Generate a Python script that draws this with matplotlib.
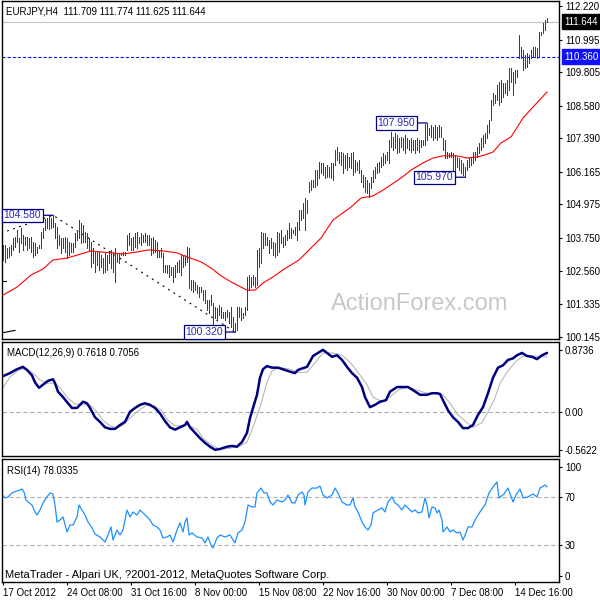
"""
EURJPY H4 - grafico estilo MetaTrader (barras, MA, MACD, RSI)
Saida: out.png (600x600)
"""
import matplotlib; matplotlib.use("Agg")
import matplotlib.pyplot as plt

plt.rcParams["font.family"] = ["Liberation Sans", "DejaVu Sans"]
plt.rcParams["lines.scale_dashes"] = False

# ---- barras (maxima / minima por barra H4, 17 Oct -> 19 Dec 2012) ----
HIGH = [103.50, 103.50, 103.39, 103.43, 103.50, 103.75, 103.79, 104.05, 103.75, 104.12,
        103.86, 103.79, 103.79, 103.75, 103.79, 103.61, 103.57, 103.43, 103.50, 103.97,
        104.12, 104.45, 104.48, 104.52, 104.48, 104.58, 104.30, 104.15, 103.86, 103.75,
        103.75, 103.79, 103.75, 103.61, 103.57, 103.57, 103.93, 103.97, 104.41, 104.30,
        104.23, 103.97, 103.93, 103.75, 103.61, 103.39, 103.24, 103.24, 103.24, 103.13,
        103.02, 103.21, 103.13, 103.24, 103.32, 103.24, 103.39, 103.21, 103.21, 103.21,
        103.24, 103.24, 103.86, 103.93, 103.75, 103.79, 103.93, 103.97, 103.79, 103.93,
        103.86, 103.93, 103.86, 103.86, 103.75, 103.79, 103.68, 103.61, 103.32, 103.39,
        103.21, 102.77, 102.77, 102.77, 102.69, 102.69, 102.77, 102.88, 102.95, 103.13,
        103.13, 103.13, 103.43, 103.39, 102.22, 102.22, 102.15, 102.04, 101.96, 101.96,
        101.85, 101.85, 101.49, 101.49, 101.67, 101.38, 101.23, 101.20, 101.31, 101.23,
        101.05, 101.05, 101.12, 101.05, 101.23, 100.87, 100.65, 101.23, 101.23, 101.20,
        101.01, 101.23, 102.33, 102.40, 102.33, 102.40, 102.33, 103.32, 103.39, 103.97,
        103.93, 103.93, 103.79, 103.68, 103.75, 103.61, 103.57, 103.97, 103.93, 104.05,
        103.79, 103.86, 104.05, 104.30, 104.12, 104.05, 104.15, 104.34, 104.77, 104.77,
        105.03, 105.21, 105.14, 105.80, 105.87, 105.87, 106.23, 106.23, 106.53, 106.49,
        106.49, 106.34, 106.42, 106.34, 106.49, 106.49, 106.97, 107.07, 106.89, 106.89,
        106.86, 106.78, 106.86, 106.71, 106.86, 106.89, 106.60, 106.53, 106.60, 106.23,
        106.05, 105.98, 105.87, 105.76, 105.98, 106.23, 106.34, 106.49, 106.53, 106.71,
        106.86, 106.78, 106.89, 107.33, 107.62, 107.44, 107.59, 107.51, 107.40, 107.44,
        107.40, 107.51, 107.40, 107.33, 107.40, 107.33, 107.33, 107.40, 107.33, 107.33,
        107.33, 107.90, 107.95, 107.77, 107.88, 107.80, 107.88, 107.80, 107.88, 107.80,
        107.40, 107.33, 106.89, 106.86, 106.89, 106.86, 106.78, 106.71, 106.67, 106.60,
        106.49, 106.34, 106.60, 106.67, 106.67, 106.89, 106.89, 107.07, 107.22, 107.40,
        107.51, 107.59, 107.88, 108.06, 108.79, 109.05, 108.97, 109.34, 109.45, 109.52,
        109.41, 109.41, 109.52, 109.96, 109.96, 109.81, 109.89, 109.89, 111.16, 110.72,
        110.62, 110.43, 110.51, 110.43, 110.62, 110.72, 110.72, 110.69, 111.27, 111.27,
        111.60, 111.71, 111.774]
LOW = [102.95, 102.88, 103.02, 103.06, 103.13, 103.32, 103.43, 103.61, 103.24, 103.57,
       103.32, 103.50, 103.32, 103.39, 103.24, 103.06, 103.13, 103.21, 103.39, 103.39,
       103.75, 104.05, 104.12, 104.08, 104.12, 104.15, 103.75, 103.39, 103.50, 103.21,
       103.39, 103.24, 103.02, 103.13, 103.24, 103.24, 103.43, 103.68, 103.75, 103.57,
       103.61, 103.61, 103.39, 103.32, 102.69, 102.84, 102.51, 102.77, 102.59, 102.69,
       102.48, 102.51, 102.59, 102.84, 102.66, 102.51, 102.15, 102.88, 102.84, 103.13,
       103.13, 103.13, 103.32, 103.50, 103.32, 103.32, 103.43, 103.39, 103.57, 103.50,
       103.61, 103.61, 103.50, 103.50, 103.13, 103.21, 103.24, 103.06, 103.06, 103.06,
       102.51, 102.51, 102.48, 102.33, 102.40, 102.15, 102.33, 102.51, 102.51, 102.40,
       102.69, 102.77, 102.88, 101.93, 101.85, 101.78, 101.85, 101.74, 101.60, 101.78,
       101.49, 101.38, 101.12, 101.01, 101.31, 100.47, 100.83, 100.76, 100.94, 100.83,
       100.83, 100.76, 100.87, 100.65, 100.51, 100.40, 100.32, 100.40, 100.87, 100.76,
       100.83, 100.94, 101.12, 101.85, 101.96, 102.04, 101.96, 102.04, 102.69, 102.84,
       103.39, 103.50, 103.50, 103.21, 103.39, 103.13, 103.06, 103.13, 103.24, 103.57,
       103.43, 103.50, 103.68, 103.75, 103.75, 103.93, 103.86, 103.68, 104.05, 104.41,
       104.48, 104.05, 104.67, 105.43, 105.50, 105.61, 105.61, 105.69, 105.94, 106.12,
       106.05, 105.94, 105.98, 105.98, 105.94, 105.87, 106.42, 106.60, 106.49, 106.42,
       106.12, 106.31, 106.23, 106.34, 106.31, 106.05, 106.16, 106.23, 106.12, 105.80,
       105.61, 105.43, 105.40, 105.25, 105.58, 105.80, 105.94, 106.12, 106.16, 106.34,
       106.42, 106.49, 106.60, 106.49, 107.07, 106.97, 107.04, 106.86, 106.89, 107.07,
       106.97, 106.86, 107.04, 106.97, 106.89, 106.97, 106.86, 106.97, 106.89, 107.07,
       107.15, 107.15, 107.33, 107.51, 107.44, 107.33, 107.40, 107.33, 107.44, 107.44,
       106.97, 106.67, 106.67, 106.71, 106.71, 106.12, 106.23, 106.34, 106.23, 106.12,
       106.05, 105.97, 106.23, 106.34, 106.42, 106.49, 106.60, 106.71, 106.86, 106.97,
       107.07, 107.22, 107.40, 107.59, 108.06, 108.61, 108.68, 108.79, 108.61, 108.72,
       108.90, 109.05, 108.97, 109.16, 109.45, 108.97, 109.41, 109.63, 110.32, 110.32,
       109.89, 109.96, 109.99, 110.14, 110.32, 110.36, 110.36, 110.32, 110.36, 111.16,
       111.24, 111.35, 111.625]

# media movel (vermelha)
MA_IDX = [0, 7, 14, 20, 25, 32, 39, 44, 49, 54, 60, 67, 73, 80, 87, 92, 99, 104, 109, 114,
          119, 122, 126, 130, 135, 140, 148, 159, 165, 174, 179, 185, 190, 199, 204, 210,
          215, 220, 227, 232, 237, 241, 245, 249, 254, 260, 265, 272]
MA_VAL = [101.67, 101.96, 102.40, 102.62, 102.95, 103.02, 103.17, 103.28, 103.24, 103.21,
          103.17, 103.24, 103.32, 103.28, 103.21, 103.06, 102.88, 102.66, 102.37, 102.15,
          101.96, 101.85, 101.85, 102.11, 102.33, 102.59, 102.95, 103.75, 104.41, 104.88,
          105.21, 105.29, 105.50, 105.94, 106.23, 106.49, 106.67, 106.75, 106.75, 106.67,
          106.71, 106.78, 106.89, 107.22, 107.44, 108.13, 108.53, 109.08]

# zigzag tracejado e marcas de preco
ZZ_IDX = [-1, 25, 116]
ZZ_PRICE = [103.93, 104.58, 100.32]
MARK_IDX = [25, 116, 212, 231]
MARK_PRICE = [104.580, 100.320, 107.950, 105.970]
STUB_IDX = [(-0.5, 6), (-0.5, 1.5)]
STUB_PRICE = [(100.29, 100.38), (102.18, 102.18)]

LAST_PRICE = 111.644
LEVEL = 110.360
OHLC_TXT = "EURJPY,H4  111.709 111.774 111.625 111.644"
PRICE_TICKS = [112.220, 110.995, 109.805, 108.580, 107.390, 106.165,
               104.975, 103.750, 102.560, 101.335, 100.145]

# MACD
MACD_IDX = [0, 3.5, 7, 10, 12, 14.5, 16, 18, 20, 22.5, 25, 26, 27.5, 30, 32.5, 34.5, 37,
            38.5, 40, 42, 43.5, 46, 48.5, 51, 53.5, 56, 58.5, 61, 63.5, 66, 68.5, 71, 73.5,
            76, 78.5, 81, 83.5, 86, 88.5, 91, 92, 93.5, 96, 98.5, 101, 103.5, 106, 108.5,
            112, 114.5, 117, 119.5, 122, 123.5, 125, 127, 128.5, 130, 132, 134.5, 137.5,
            141, 144.5, 146, 147.5, 148.5, 152, 155, 157.5, 160, 162, 164.5, 167, 169.5,
            172, 174.5, 177, 179.5, 181, 183.5, 186, 188.5, 191.5, 193.5, 197, 200, 202.5,
            205, 208.5, 212, 214.5, 217, 218.5, 220, 222.5, 225, 227.5, 230, 232.5, 235,
            237.5, 240, 242.5, 245, 247.5, 250, 252.5, 255, 257, 259.5, 262, 264.5, 267,
            269.5, 272]
MACD_MAIN = [0.46, 0.50, 0.55, 0.58, 0.54, 0.47, 0.38, 0.31, 0.35, 0.40, 0.42, 0.37, 0.26,
             0.19, 0.11, 0.05, 0.05, 0.09, 0.13, 0.11, 0.05, -0.07, -0.13, -0.20, -0.22,
             -0.22, -0.17, -0.13, 0.00, 0.05, 0.09, 0.11, 0.09, 0.05, -0.02, -0.12, -0.20,
             -0.23, -0.20, -0.17, -0.13, -0.20, -0.27, -0.34, -0.40, -0.45, -0.49, -0.48,
             -0.45, -0.44, -0.45, -0.39, -0.27, -0.08, 0.05, 0.22, 0.44, 0.55, 0.59, 0.57,
             0.57, 0.54, 0.51, 0.50, 0.54, 0.55, 0.58, 0.72, 0.76, 0.80, 0.76, 0.71, 0.73,
             0.67, 0.58, 0.50, 0.44, 0.32, 0.19, 0.06, 0.09, 0.13, 0.15, 0.26, 0.32, 0.32,
             0.32, 0.28, 0.22, 0.22, 0.24, 0.24, 0.23, 0.15, 0.02, -0.07, -0.13, -0.21,
             -0.21, -0.17, -0.04, 0.06, 0.24, 0.44, 0.57, 0.60, 0.67, 0.69, 0.73, 0.76,
             0.72, 0.71, 0.68, 0.73, 0.76]
SIG_IDX = [0, 3.5, 8.5, 12, 15, 18.5, 22, 26, 28.5, 32, 36, 40, 43.5, 47, 50, 53.5, 57, 60,
           63.5, 67, 72, 76, 79.5, 82.5, 86, 89.5, 92.5, 97, 100, 105, 108.5, 113.5, 118.5,
           122, 125, 128.5, 132, 134.5, 138.5, 143.5, 147.5, 152, 156, 160, 165, 169.5,
           173.5, 177.5, 182, 185, 189.5, 193.5, 197.5, 202, 207, 212, 217, 220, 223.5,
           227.5, 232, 235, 239.5, 242.5, 246, 248.5, 252, 256, 260, 265, 272]
MACD_SIG = [0.31, 0.45, 0.55, 0.55, 0.50, 0.41, 0.37, 0.37, 0.31, 0.19, 0.10, 0.09, 0.09,
            0.00, -0.11, -0.18, -0.21, -0.17, -0.08, 0.00, 0.09, 0.07, 0.01, -0.11, -0.18,
            -0.18, -0.17, -0.23, -0.34, -0.44, -0.48, -0.47, -0.44, -0.39, -0.20, 0.06,
            0.38, 0.53, 0.57, 0.55, 0.51, 0.51, 0.63, 0.76, 0.76, 0.73, 0.64, 0.51, 0.35,
            0.19, 0.13, 0.19, 0.28, 0.32, 0.28, 0.24, 0.24, 0.22, 0.11, -0.04, -0.14,
            -0.20, -0.14, 0.00, 0.18, 0.37, 0.51, 0.64, 0.72, 0.72, 0.71]

# RSI(14)
RSI_IDX = [0, 1, 2.5, 4.5, 7, 9.5, 10.5, 11.5, 12.5, 14.5, 16, 17, 18.5, 20, 22, 23.5, 25,
           26, 27, 28.5, 30, 32, 33.5, 35, 37, 38, 39.5, 41, 42.5, 44.5, 46, 48.5, 51, 52.5,
           54, 55, 57, 58.5, 60, 62, 63.5, 65, 67, 68.5, 70, 72, 73.5, 75, 77, 78.5, 80, 82,
           83.5, 85, 87, 88.5, 90, 91, 92, 93, 94.5, 97, 99.5, 101, 102.5, 104, 105, 107,
           108.5, 111, 113.5, 116, 117.5, 119.5, 121, 122.5, 124.5, 126, 127, 129, 130.5,
           132, 133.5, 135, 137, 139.5, 141, 142.5, 144.5, 146, 147.5, 149.5, 150.5, 151,
           152.5, 154.5, 157, 158.5, 160, 162, 164.5, 166, 167.5, 169.5, 172, 173.5, 175,
           176, 177.5, 179.5, 181, 182.5, 184, 185, 187.5, 189.5, 191, 192.5, 194.5, 196,
           197.5, 199.5, 201, 202.5, 204.5, 206, 207.5, 209.5, 211, 212, 213, 214.5, 216,
           217, 218, 219.5, 220, 222, 223.5, 225, 227, 228.5, 230, 231.5, 232.5, 234.5, 236,
           238.5, 241, 243, 245, 247, 248, 250.5, 252.5, 255, 256.5, 258.5, 260, 262.5, 265,
           267, 268.5, 271, 272]
RSI_VAL = [70.7, 68.9, 69.7, 73.0, 74.6, 76.2, 73.8, 67.2, 65.6, 63.1, 57.4, 54.9, 59.0,
           64.8, 69.7, 73.0, 72.1, 63.1, 49.2, 50.8, 53.3, 41.0, 46.7, 46.7, 53.3, 63.1,
           59.0, 54.9, 49.2, 44.3, 39.3, 36.9, 32.8, 38.5, 45.1, 34.4, 42.6, 38.5, 42.6,
           59.0, 53.3, 57.4, 54.9, 59.0, 56.6, 53.3, 50.8, 46.7, 45.1, 42.6, 36.1, 36.9,
           38.5, 32.8, 42.6, 48.4, 41.0, 49.2, 52.5, 38.5, 40.2, 36.9, 36.1, 32.0, 36.9,
           30.3, 27.9, 36.1, 38.5, 36.9, 38.5, 32.0, 40.2, 42.6, 49.2, 63.1, 61.5, 61.5,
           73.0, 77.0, 73.0, 73.0, 65.6, 63.1, 67.2, 65.6, 67.2, 71.3, 64.8, 64.8, 71.3,
           73.8, 71.3, 63.1, 73.8, 77.0, 77.0, 78.7, 71.3, 68.9, 71.3, 77.0, 73.0, 65.6,
           63.1, 63.1, 68.9, 61.5, 57.4, 49.2, 45.1, 42.6, 46.7, 56.6, 59.0, 60.7, 57.4,
           65.6, 69.7, 64.8, 63.1, 59.0, 63.1, 60.7, 57.4, 59.0, 56.6, 57.4, 68.9, 63.1,
           52.5, 61.5, 60.7, 56.6, 59.0, 50.8, 41.0, 45.1, 41.0, 42.6, 40.2, 41.0, 34.4,
           40.2, 45.1, 45.1, 50.8, 57.4, 63.1, 73.0, 77.9, 82.0, 68.9, 72.1, 77.0, 65.6,
           71.3, 76.2, 68.9, 69.7, 72.1, 69.7, 77.0, 79.5, 78.0]

TIME_IDX = [0, 32, 64, 96, 128, 160, 192, 224, 256]
TIME_LBL = ["17 Oct 2012", "24 Oct 08:00", "31 Oct 16:00", "8 Nov 00:00", "15 Nov 08:00",
            "22 Nov 16:00", "30 Nov 00:00", "7 Dec 08:00", "14 Dec 16:00"]

BAR_COR = "#1d4766"
NAVY = "#000080"
FS = 7

fig = plt.figure(figsize=(6, 6), dpi=100)


def painel(topo, base):
    return fig.add_axes([2 / 600, 1 - base / 600, 557 / 600, (base - topo) / 600])


ax_p = painel(1, 339)
ax_m = painel(342, 456)
ax_r = painel(459, 582)

for ax in (ax_p, ax_m, ax_r):
    ax.set_xlim(-0.5, 278)
    for s in ax.spines.values():
        s.set_color("black"); s.set_linewidth(1.0)
    ax.yaxis.tick_right()
    ax.tick_params(axis="y", direction="out", length=2.2, width=0.8, pad=2,
                   labelsize=FS, right=True, left=False)
    ax.tick_params(axis="x", bottom=False, labelbottom=False)

# ---- painel de preco ----
ax_p.set_ylim(100.066, 112.40)
ax_p.vlines(range(len(HIGH)), LOW, HIGH, color=BAR_COR, lw=0.5, zorder=3,
            antialiased=False)
ax_p.plot(MA_IDX, MA_VAL, color="red", lw=0.8, zorder=4)
ax_p.axhline(LAST_PRICE, color="#c0c0c0", lw=0.8, zorder=1)
ax_p.axhline(LEVEL, color="#0000ff", lw=0.8, ls=(0, (2.2, 1.5)), zorder=2)
ax_p.plot(ZZ_IDX, ZZ_PRICE, color="black", lw=0.8, ls=(0, (1.4, 3.2)), zorder=2)
for xs, ys in zip(STUB_IDX, STUB_PRICE):
    ax_p.plot(xs, ys, color="black", lw=0.8)
ax_p.set_yticks(PRICE_TICKS)
ax_p.set_yticklabels([format(v, ".3f") for v in PRICE_TICKS])

for i, v in zip(MARK_IDX, MARK_PRICE):
    ax_p.annotate(format(v, ".3f"), xy=(i, v), xytext=(-12, 0), textcoords="offset pixels",
                  ha="right", va="center", fontsize=7.5, color="#2a2ab0", zorder=6,
                  bbox=dict(boxstyle="square,pad=0.15", fc="white", ec=NAVY, lw=0.9),
                  arrowprops=dict(arrowstyle="-", color=NAVY, lw=0.9, shrinkA=0, shrinkB=0),
                  annotation_clip=False)

for v, fc in ((LAST_PRICE, "black"), (LEVEL, "#1010ff")):
    ax_p.annotate(format(v, ".3f"), xy=(1, v), xycoords=("axes fraction", "data"),
                  xytext=(5, 0), textcoords="offset pixels", ha="left", va="center",
                  fontsize=FS, color="white", annotation_clip=False,
                  bbox=dict(boxstyle="square,pad=0.25", fc=fc, ec=fc))

ax_p.annotate(OHLC_TXT, xy=(0, 1), xycoords="axes fraction", xytext=(4, -5),
              textcoords="offset pixels", ha="left", va="top", fontsize=FS)
ax_p.text(0.75, 0.104, "ActionForex.com", transform=ax_p.transAxes, fontsize=17,
          color="#c8c8c8", ha="center", va="center", zorder=0)

# ---- MACD ----
ax_m.set_ylim(-0.570, 0.901)
ax_m.axhline(0, color="#a8a8a8", lw=0.8, ls=(0, (3, 2)))
ax_m.plot(SIG_IDX, MACD_SIG, color="#b8b8b8", lw=0.8)
ax_m.plot(MACD_IDX, MACD_MAIN, color=NAVY, lw=1.8, solid_capstyle="round")
lo, hi = ax_m.get_ylim()
ax_m.set_yticks([lo + 0.93 * (hi - lo), 0, lo + 0.053 * (hi - lo)])
ax_m.set_yticklabels(["0.8736", "0.00", "-0.5622"])
ax_m.annotate("MACD(12,26,9) 0.7618 0.7056", xy=(0, 1), xycoords="axes fraction",
              xytext=(5, -6), textcoords="offset pixels", ha="left", va="top", fontsize=FS)

# ---- RSI ----
ax_r.set_ylim(0, 100.8)
for nv in (70, 30):
    ax_r.axhline(nv, color="#b0b0b0", lw=0.8, ls=(0, (3, 2)))
ax_r.plot(RSI_IDX, RSI_VAL, color="#1e90ff", lw=0.9)
lo, hi = ax_r.get_ylim()
ax_r.set_yticks([lo + 0.935 * (hi - lo), 70, 30, lo + 0.049 * (hi - lo)])
ax_r.set_yticklabels(["100", "70", "30", "0"])
ax_r.annotate("RSI(14) 78.0335", xy=(0, 1), xycoords="axes fraction", xytext=(5, -7),
              textcoords="offset pixels", ha="left", va="top", fontsize=FS)
ax_r.annotate("MetaTrader - Alpari UK, ?2001-2012, MetaQuotes Software Corp.", xy=(0, 0),
              xycoords="axes fraction", xytext=(3, 4), textcoords="offset pixels",
              ha="left", va="baseline", fontsize=8)
ax_r.set_xticks(TIME_IDX)
ax_r.set_xticklabels(TIME_LBL)
ax_r.tick_params(axis="x", bottom=True, labelbottom=True, direction="out", length=2.5,
                 width=0.8, pad=1.5, labelsize=FS)
for lb in ax_r.get_xticklabels():
    lb.set_ha("left")

fig.savefig("out.png", dpi=100)
plt.close(fig)
